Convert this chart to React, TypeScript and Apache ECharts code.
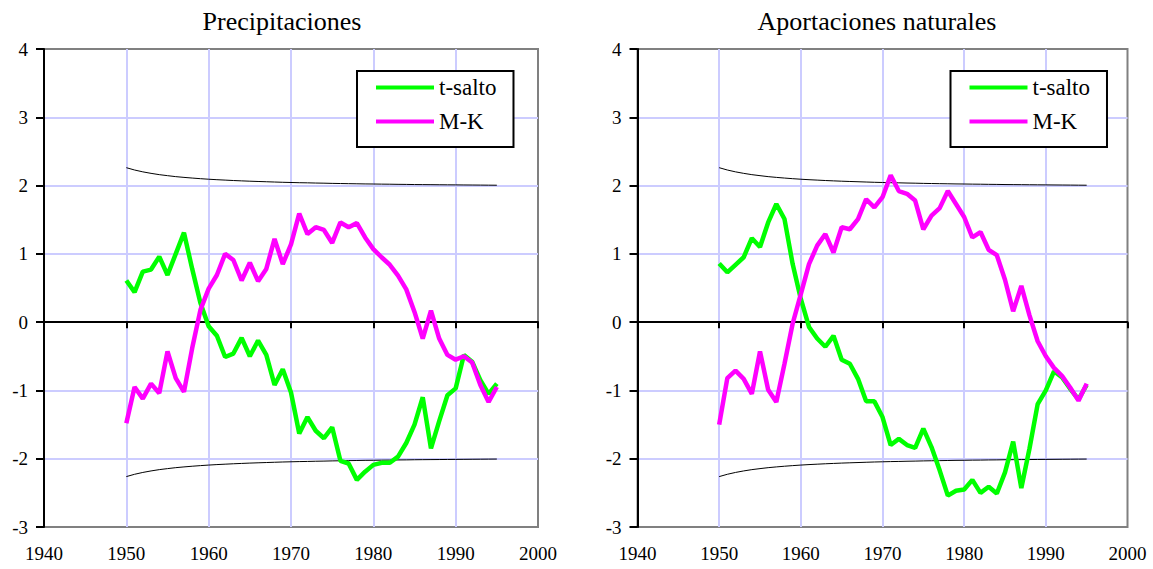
import React, { useEffect, useRef } from "react";
import * as echarts from "echarts";

const years = [
  1950, 1951, 1952, 1953, 1954, 1955, 1956, 1957, 1958, 1959,
  1960, 1961, 1962, 1963, 1964, 1965, 1966, 1967, 1968, 1969,
  1970, 1971, 1972, 1973, 1974, 1975, 1976, 1977, 1978, 1979,
  1980, 1981, 1982, 1983, 1984, 1985, 1986, 1987, 1988, 1989,
  1990, 1991, 1992, 1993, 1994, 1995,
];

const titles = ["Precipitaciones", "Aportaciones naturales"];
const legendNames = ["t-salto", "M-K"];

// Precipitaciones
const precipTSalto = [
  0.61, 0.44, 0.74, 0.77, 0.96, 0.69, 1.0, 1.31, 0.78, 0.28,
  -0.06, -0.2, -0.51, -0.46, -0.23, -0.5, -0.27, -0.48, -0.92, -0.69,
  -1.03, -1.63, -1.39, -1.59, -1.7, -1.54, -2.03, -2.07, -2.31, -2.19,
  -2.09, -2.06, -2.06, -1.97, -1.77, -1.5, -1.1, -1.85, -1.45, -1.07,
  -0.97, -0.48, -0.58, -0.85, -1.05, -0.9,
];
const precipMK = [
  -1.48, -0.95, -1.12, -0.9, -1.04, -0.43, -0.82, -1.02, -0.38, 0.18,
  0.49, 0.69, 1.0, 0.91, 0.61, 0.87, 0.6, 0.78, 1.22, 0.85,
  1.14, 1.59, 1.29, 1.39, 1.35, 1.16, 1.46, 1.39, 1.45, 1.24,
  1.07, 0.95, 0.84, 0.68, 0.48, 0.15, -0.24, 0.17, -0.24, -0.48,
  -0.55, -0.5, -0.59, -0.92, -1.17, -0.95,
];

// Aportaciones naturales
const aportTSalto = [
  0.86, 0.73, 0.84, 0.95, 1.23, 1.1, 1.46, 1.73, 1.51, 0.85,
  0.34, -0.07, -0.24, -0.36, -0.2, -0.55, -0.61, -0.83, -1.16, -1.16,
  -1.39, -1.8, -1.71, -1.8, -1.84, -1.56, -1.83, -2.17, -2.54, -2.47,
  -2.45, -2.31, -2.5, -2.41, -2.51, -2.2, -1.75, -2.43, -1.85, -1.2,
  -1.0, -0.72, -0.81, -0.98, -1.13, -0.92,
];
const aportMK = [
  -1.5, -0.82, -0.71, -0.83, -1.05, -0.43, -0.99, -1.17, -0.61, -0.02,
  0.41, 0.85, 1.12, 1.29, 1.02, 1.39, 1.36, 1.51, 1.8, 1.68,
  1.83, 2.15, 1.92, 1.88, 1.78, 1.36, 1.56, 1.67, 1.92, 1.73,
  1.54, 1.24, 1.32, 1.06, 0.98, 0.62, 0.16, 0.53, 0.1, -0.28,
  -0.5, -0.67, -0.79, -0.96, -1.15, -0.9,
];

// Confidence limits (same in both panels)
const limSup = [
  2.262, 2.228, 2.201, 2.179, 2.16, 2.145, 2.131, 2.12, 2.11, 2.101,
  2.093, 2.086, 2.08, 2.074, 2.069, 2.064, 2.06, 2.056, 2.052, 2.048,
  2.045, 2.042, 2.04, 2.037, 2.035, 2.032, 2.03, 2.028, 2.026, 2.024,
  2.023, 2.021, 2.02, 2.018, 2.017, 2.015, 2.014, 2.013, 2.012, 2.011,
  2.01, 2.009, 2.008, 2.007, 2.006, 2.005,
];
const limInf = [
  -2.262, -2.228, -2.201, -2.179, -2.16, -2.145, -2.131, -2.12, -2.11, -2.101,
  -2.093, -2.086, -2.08, -2.074, -2.069, -2.064, -2.06, -2.056, -2.052, -2.048,
  -2.045, -2.042, -2.04, -2.037, -2.035, -2.032, -2.03, -2.028, -2.026, -2.024,
  -2.023, -2.021, -2.02, -2.018, -2.017, -2.015, -2.014, -2.013, -2.012, -2.011,
  -2.01, -2.009, -2.008, -2.007, -2.006, -2.005,
];

const xMin = 1940;
const xMax = 2000;
const xStep = 10;
const yMin = -3;
const yMax = 4;
const yStep = 1;

const pairs = (vals: number[]) => years.map((y, i) => [y, vals[i]]);

const SERIF = "Liberation Serif";
const GREEN = "#00ff00";
const MAGENTA = "#ff00ff";
const GRIDLINE = "#ccccff";

export default function App() {
  const ref = useRef<HTMLDivElement>(null);

  useEffect(() => {
    if (!ref.current) return;
    const chart = echarts.init(ref.current, undefined, { renderer: "svg" });

    const panels = [
      { left: 44, width: 494, legendLeft: 357, titleX: 282, tS: precipTSalto, mk: precipMK },
      { left: 637.5, width: 490, legendLeft: 950.5, titleX: 877, tS: aportTSalto, mk: aportMK },
    ];

    const grid: any[] = [];
    const xAxis: any[] = [];
    const yAxis: any[] = [];
    const series: any[] = [];
    const legend: any[] = [];
    const graphic: any[] = [];

    panels.forEach((p, i) => {
      grid.push({
        left: p.left,
        top: 49,
        width: p.width,
        height: 478,
        show: true,
        borderColor: "#808080",
        borderWidth: 2,
        backgroundColor: "transparent",
      });
      // axis drawn on the zero line, with its ticks and vertical grid lines
      xAxis.push({
        gridIndex: i,
        type: "value",
        min: xMin,
        max: xMax,
        interval: xStep,
        position: "bottom",
        axisLine: { show: true, onZero: true, lineStyle: { color: "#000", width: 2 } },
        axisTick: { show: true, length: 6, lineStyle: { color: "#000", width: 2 } },
        axisLabel: { show: false },
        splitLine: {
          show: true,
          showMinLine: false,
          showMaxLine: false,
          lineStyle: { color: GRIDLINE, width: 2 },
        },
      });
      // labels at the bottom of the plot area
      xAxis.push({
        gridIndex: i,
        type: "value",
        min: xMin,
        max: xMax,
        interval: xStep,
        position: "bottom",
        axisLine: { show: false, onZero: false },
        axisTick: { show: false },
        axisLabel: {
          show: true,
          margin: 17,
          fontFamily: SERIF,
          fontSize: 19,
          color: "#000",
          formatter: (v: number) => String(v),
        },
        splitLine: { show: false },
      });
      yAxis.push({
        gridIndex: i,
        type: "value",
        min: yMin,
        max: yMax,
        interval: yStep,
        axisLine: { show: true, onZero: false, lineStyle: { color: "#000", width: 2 } },
        axisTick: { show: true, length: 8, lineStyle: { color: "#000", width: 2 } },
        axisLabel: {
          margin: 16,
          fontFamily: SERIF,
          fontSize: 19,
          color: "#000",
          formatter: (v: number) => String(v),
        },
        splitLine: {
          show: true,
          showMinLine: false,
          showMaxLine: false,
          lineStyle: { color: GRIDLINE, width: 2 },
        },
      });
      const common = {
        type: "line",
        xAxisIndex: 2 * i,
        yAxisIndex: i,
        showSymbol: false,
        symbol: "none",
      };
      series.push({
        ...common,
        name: "lim-sup-" + i,
        data: pairs(limSup),
        color: "#000",
        lineStyle: { color: "#000", width: 1 },
        silent: true,
      });
      series.push({
        ...common,
        name: "lim-inf-" + i,
        data: pairs(limInf),
        color: "#000",
        lineStyle: { color: "#000", width: 1 },
        silent: true,
      });
      series.push({
        ...common,
        name: legendNames[0],
        data: pairs(p.tS),
        color: GREEN,
        lineStyle: { color: GREEN, width: 4.5 },
      });
      series.push({
        ...common,
        name: legendNames[1],
        data: pairs(p.mk),
        color: MAGENTA,
        lineStyle: { color: MAGENTA, width: 4.5 },
      });
      legend.push({
        left: p.legendLeft,
        top: 71,
        orient: "vertical",
        data: legendNames,
        icon: "rect",
        itemWidth: 58,
        itemHeight: 4,
        itemGap: 11,
        padding: [5, 17, 14, 19],
        borderColor: "#000",
        borderWidth: 2,
        backgroundColor: "#fff",
        selectedMode: false,
        textStyle: {
          fontFamily: SERIF,
          fontSize: 23,
          color: "#000",
        },
      });
      graphic.push({
        type: "text",
        x: p.titleX,
        y: 21,
        style: {
          text: titles[i],
          fontFamily: SERIF,
          fontSize: 26,
          fill: "#000",
          textAlign: "center",
          textVerticalAlign: "middle",
        },
      });
    });

    chart.setOption({
      animation: false,
      backgroundColor: "#fff",
      textStyle: { fontFamily: SERIF },
      grid,
      xAxis,
      yAxis,
      series,
      legend,
      graphic,
    });

    return () => chart.dispose();
  }, []);

  return (
    <div
      ref={ref}
      style={{ position: "absolute", left: 0, top: 0, width: 1153, height: 569 }}
    />
  );
}
